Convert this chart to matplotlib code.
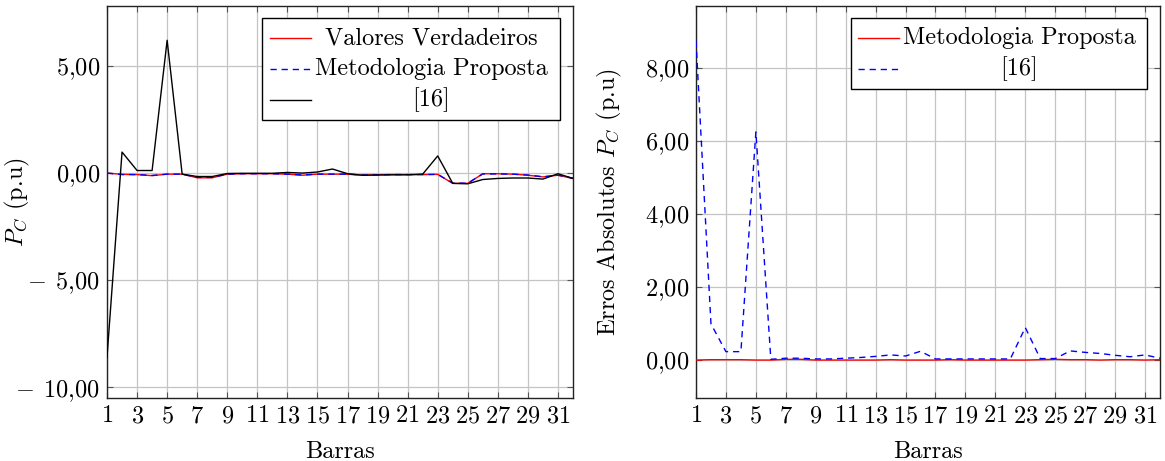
import matplotlib
matplotlib.use("Agg")
import matplotlib.pyplot as plt
from matplotlib.lines import Line2D
from matplotlib.patches import Rectangle
import numpy as np

plt.rcParams['font.family'] = 'cmr10'
plt.rcParams['mathtext.fontset'] = 'cm'
plt.rcParams['axes.formatter.use_mathtext'] = True

barras = list(range(1, 33))

# Left panel: P_C (p.u)
valores_verdadeiros = [0.00, -0.06, -0.07, -0.12, -0.05, -0.05, -0.22, -0.22, -0.05, -0.03,
                       -0.03, -0.03, -0.05, -0.10, -0.05, -0.05, -0.05, -0.10, -0.08, -0.07,
                       -0.07, -0.07, -0.06, -0.48, -0.48, -0.03, -0.03, -0.05, -0.10, -0.18,
                       -0.10, -0.25]
metodologia_proposta = [0.00, -0.07, -0.07, -0.11, -0.05, -0.05, -0.20, -0.20, -0.05, -0.03,
                        -0.03, -0.03, -0.05, -0.09, -0.05, -0.05, -0.05, -0.09, -0.08, -0.07,
                        -0.07, -0.07, -0.06, -0.47, -0.47, -0.04, -0.04, -0.05, -0.09, -0.17,
                        -0.10, -0.24]
ref16 = [-8.60, 0.98, 0.12, 0.12, 6.20, -0.05, -0.16, -0.16, -0.02, -0.01,
         -0.01, -0.01, 0.03, 0.00, 0.05, 0.19, -0.03, -0.10, -0.09, -0.08,
         -0.08, -0.05, 0.80, -0.48, -0.50, -0.30, -0.25, -0.23, -0.23, -0.28,
         -0.03, -0.25]

# Right panel: absolute errors
erro_proposta = [0.00, 0.01, 0.01, 0.01, 0.00, 0.00, 0.02, 0.02, 0.00, 0.00,
                 0.00, 0.00, 0.00, 0.01, 0.00, 0.00, 0.00, 0.01, 0.00, 0.00,
                 0.00, 0.00, 0.00, 0.01, 0.02, 0.01, 0.01, 0.00, 0.01, 0.01,
                 0.00, 0.01]
erro_ref16 = [8.75, 0.99, 0.23, 0.23, 6.25, 0.02, 0.05, 0.05, 0.03, 0.03,
              0.05, 0.07, 0.10, 0.14, 0.11, 0.24, 0.03, 0.03, 0.03, 0.03,
              0.03, 0.03, 0.89, 0.04, 0.04, 0.25, 0.21, 0.18, 0.13, 0.09,
              0.14, 0.05]

xticks = list(range(1, 32, 2))
left_yticks = [-10, -5, 0, 5]
left_yticklabels = [r'$-\;\,10{,}00$', r'$-\;\,5{,}00$', r'$0{,}00$', r'$5{,}00$']
right_yticks = [0, 2, 4, 6, 8]
right_yticklabels = [r'$0{,}00$', r'$2{,}00$', r'$4{,}00$', r'$6{,}00$', r'$8{,}00$']

W, H = 1165, 461
fig = plt.figure(figsize=(W / 100, H / 100), dpi=100)

def px_axes(x0, x1, y0, y1):
    return fig.add_axes([x0 / W, 1 - y1 / H, (x1 - x0) / W, (y1 - y0) / H])

ax1 = px_axes(107, 573, 6, 398)
ax2 = px_axes(696, 1160, 6, 398)

FS = 17.5
dash = (4.5, 3.5)

def style(ax, yticks, yticklabels):
    ax.set_xlim(1, 32)
    ax.set_xticks(xticks)
    ax.set_xticklabels([f'${t}$' for t in xticks], fontsize=FS)
    ax.set_yticks(yticks)
    ax.set_yticklabels(yticklabels, fontsize=FS)
    ax.grid(True, color='#c4c4c4', linewidth=0.9)
    ax.set_axisbelow(True)
    ax.tick_params(direction='in', length=4, width=0.8, color='#555555',
                   top=True, right=True, pad=5)
    for s in ax.spines.values():
        s.set_linewidth(1.0)
        s.set_color('#222222')
    ax.set_xlabel('Barras', fontsize=FS, labelpad=10)

# Left panel
ax1.plot(barras, valores_verdadeiros, color='red', lw=1.0, zorder=3)
ax1.plot(barras, metodologia_proposta, color='blue', lw=1.0, dashes=dash, zorder=4)
ax1.plot(barras, ref16, color='black', lw=1.0, zorder=5)
ax1.set_ylim(-10.5, 7.8)
style(ax1, left_yticks, left_yticklabels)
ax1.set_ylabel(r'$P_C$ (p.u)', fontsize=FS)
ax1.yaxis.set_label_coords((32 - 107) / 466, 0.5)

# Right panel
ax2.plot(barras, erro_proposta, color='red', lw=1.0, zorder=3)
ax2.plot(barras, erro_ref16, color='blue', lw=1.0, dashes=dash, zorder=4)
ax2.set_ylim(-1.04, 9.7)
style(ax2, right_yticks, right_yticklabels)
ax2.set_ylabel(r'Erros Absolutos $P_C$ (p.u)', fontsize=FS)
ax2.yaxis.set_label_coords((624 - 696) / 464, 0.5)

# Manual pgfplots-style legends (pixel coordinates of figure)
def legend(box, entries, line_x, text_cx, row_y):
    x0, y0, x1, y1 = box
    fig.add_artist(Rectangle((x0 / W, 1 - y1 / H), (x1 - x0) / W, (y1 - y0) / H,
                             transform=fig.transFigure, facecolor='white',
                             edgecolor='black', lw=1.0, zorder=10))
    for (label, color, dashed), y in zip(entries, row_y):
        kw = dict(dashes=dash) if dashed else {}
        fig.add_artist(Line2D([line_x[0] / W, line_x[1] / W], [1 - y / H, 1 - y / H],
                              transform=fig.transFigure, color=color, lw=1.0,
                              zorder=11, **kw))
        fig.text(text_cx / W, 1 - y / H, label, ha='center', va='center',
                 fontsize=FS, zorder=12)

legend((262, 18, 560, 120),
       [('Valores Verdadeiros', 'red', False),
        ('Metodologia Proposta', 'blue', True),
        ('[16]', 'black', False)],
       (270, 311), 431, [38, 69, 100])

legend((851, 18, 1147, 89),
       [('Metodologia Proposta', 'red', False),
        ('[16]', 'blue', True)],
       (858, 899), 1019, [38, 69])

fig.savefig('out.png', dpi=100)
